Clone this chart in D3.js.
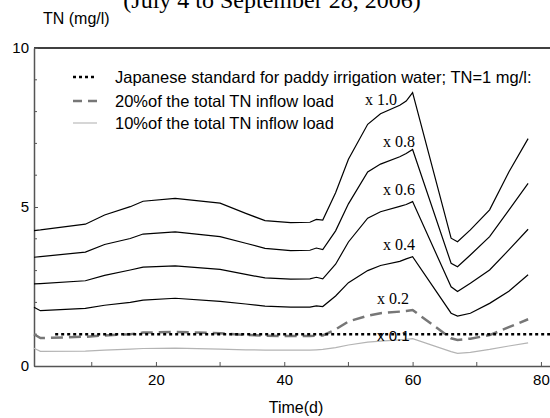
<!DOCTYPE html>
<html>
<head>
<meta charset="utf-8">
<script src="https://cdn.jsdelivr.net/npm/d3@7"></script>
<style>
  body { margin: 0; background: #fff; }
  svg { display: block; }
</style>
</head>
<body>
<div id="chart"></div>
<script>
var days = [1, 2, 9, 12, 16, 18, 23, 30, 34, 37, 41, 44, 45, 46, 48, 50, 53, 55, 58, 59, 60, 66, 67, 69, 72, 75, 78];

var tn10 = [4.26, 4.28, 4.46, 4.75, 5.01, 5.18, 5.27, 5.12, 4.80, 4.57, 4.51, 4.52, 4.61, 4.59, 5.45, 6.50, 7.60, 7.93, 8.20, 8.33, 8.60, 4.02, 3.91, 4.28, 4.91, 6.10, 7.15];
var tn08 = [3.42, 3.44, 3.58, 3.82, 4.01, 4.15, 4.22, 4.07, 3.86, 3.70, 3.63, 3.64, 3.71, 3.66, 4.25, 5.10, 6.10, 6.35, 6.58, 6.68, 6.81, 3.23, 3.12, 3.49, 4.07, 4.90, 5.74];
var tn06 = [2.58, 2.59, 2.68, 2.85, 3.02, 3.11, 3.15, 3.04, 2.88, 2.77, 2.73, 2.74, 2.79, 2.74, 3.20, 3.90, 4.65, 4.85, 5.02, 5.08, 5.17, 2.49, 2.34, 2.60, 3.02, 3.65, 4.30];
var tn04 = [1.85, 1.74, 1.81, 1.91, 2.00, 2.07, 2.13, 2.03, 1.95, 1.88, 1.85, 1.85, 1.89, 1.87, 2.20, 2.62, 3.00, 3.16, 3.29, 3.37, 3.44, 1.66, 1.57, 1.66, 1.97, 2.35, 2.87];
var tn02 = [1.00, 0.88, 0.92, 0.96, 1.00, 1.05, 1.07, 1.03, 0.98, 0.95, 0.94, 0.94, 0.95, 0.96, 1.15, 1.40, 1.58, 1.66, 1.71, 1.73, 1.76, 0.87, 0.82, 0.86, 0.97, 1.22, 1.47];
var tn01 = [0.56, 0.46, 0.47, 0.50, 0.53, 0.55, 0.56, 0.53, 0.51, 0.50, 0.50, 0.50, 0.51, 0.52, 0.58, 0.66, 0.75, 0.78, 0.82, 0.84, 0.86, 0.45, 0.40, 0.43, 0.52, 0.63, 0.73];

var standardDays = [4.3, 84];
var standardTN = [1, 1];

var curveLabels = ["x 1.0", "x 0.8", "x 0.6", "x 0.4", "x 0.2", "x 0.1"];
var legendLabels = [
	"Japanese standard for paddy irrigation water; TN=1 mg/l:",
	"20%of the total TN inflow load",
	"10%of the total TN inflow load"
];
var xTicks = [20, 40, 60, 80];
var xMinor = [10, 30, 50, 70];
var yTicks = [0, 5, 10];
var yMinor = [1, 2, 3, 4, 6, 7, 8, 9];

var W = 550, H = 418;
var sans = "'Liberation Sans', Arial, sans-serif";
var serif = "'Liberation Serif', 'Times New Roman', serif";

var svg = d3.select('#chart').append('svg').attr('width', W).attr('height', H);

var x = d3.scaleLinear().domain([1, 84]).range([34, 34 + 83 * 6.417]);
var y = d3.scaleLinear().domain([0, 10]).range([366, 48]);

function pts(xs, ys) { return xs.map(function(d, i) { return [d, ys[i]]; }); }
var line = d3.line().x(function(d) { return x(d[0]); }).y(function(d) { return y(d[1]); });

// title, cut off at the top as in the original figure
svg.append('text').attr('x', 272).attr('y', 8).attr('text-anchor', 'middle')
	.style('font-family', serif).style('font-size', '24px')
	.text('(July 4 to September 28, 2006)');

svg.append('text').attr('x', 43).attr('y', 24)
	.style('font-family', sans).style('font-size', '16px')
	.text('TN (mg/l)');

// frame
svg.append('line').attr('x1', x(1)).attr('x2', W).attr('y1', y(10)).attr('y2', y(10))
	.attr('stroke', '#000').attr('stroke-width', 1.3);

// axes
var yAxis = d3.axisLeft(y).tickValues(yTicks).tickSizeInner(-4).tickSizeOuter(0).tickPadding(5);
var gy = svg.append('g').attr('transform', 'translate(' + x(1) + ',0)').call(yAxis);
gy.selectAll('text').style('font-family', sans).style('font-size', '15px').attr('fill', '#000');
gy.selectAll('line').attr('stroke', '#555');
gy.select('.domain').attr('stroke', '#555').attr('stroke-width', 1.5);
gy.selectAll('.minor').data(yMinor).enter().append('line').attr('class', 'minor')
	.attr('x1', 0).attr('x2', 3).attr('y1', y).attr('y2', y).attr('stroke', '#555');

var xAxis = d3.axisBottom(x).tickValues(xTicks).tickSizeInner(-4).tickSizeOuter(0).tickPadding(8);
var gx = svg.append('g').attr('transform', 'translate(0,' + y(0) + ')').call(xAxis);
gx.selectAll('text').style('font-family', sans).style('font-size', '15px').attr('fill', '#000');
gx.selectAll('line').attr('stroke', '#555');
gx.select('.domain').attr('stroke', '#555').attr('stroke-width', 1.5);
gx.selectAll('.minor').data(xMinor).enter().append('line').attr('class', 'minor')
	.attr('x1', x).attr('x2', x).attr('y1', 0).attr('y2', -4).attr('stroke', '#555');

svg.append('text').attr('x', 296).attr('y', 413).attr('text-anchor', 'middle')
	.style('font-family', sans).style('font-size', '16px')
	.text('Time(d)');

// curves
var plot = svg.append('g');
[tn10, tn08, tn06, tn04].forEach(function(s) {
	plot.append('path').attr('d', line(pts(days, s)))
		.attr('fill', 'none').attr('stroke', '#000').attr('stroke-width', 1.2);
});
plot.append('path').attr('d', line(pts(days, tn01)))
	.attr('fill', 'none').attr('stroke', '#b4b4b4').attr('stroke-width', 1.2);
plot.append('path').attr('d', line(pts(days, tn02)))
	.attr('fill', 'none').attr('stroke', '#777').attr('stroke-width', 2.5)
	.attr('stroke-dasharray', '12,6');
plot.append('path').attr('d', line(pts(standardDays, standardTN)))
	.attr('fill', 'none').attr('stroke', '#000').attr('stroke-width', 2.5)
	.attr('stroke-dasharray', '3,3');

// curve labels
var labelPos = [[365, 105], [383, 147], [383, 195], [383, 250], [377, 304], [377, 341]];
svg.selectAll('.clab').data(curveLabels).enter().append('text').attr('class', 'clab')
	.attr('x', function(d, i) { return labelPos[i][0]; })
	.attr('y', function(d, i) { return labelPos[i][1]; })
	.style('font-family', function(d, i) { return i === 5 ? sans : serif; })
	.style('font-size', function(d, i) { return i === 5 ? '15px' : '16px'; })
	.text(function(d) { return d; });

// legend
var legY = [77, 101, 123];
var legStyle = [
	{ stroke: '#000', w: 2.5, dash: '3,3' },
	{ stroke: '#777', w: 2.5, dash: '9,6' },
	{ stroke: '#bbb', w: 1.2, dash: null }
];
var leg = svg.selectAll('.leg').data(legendLabels).enter().append('g').attr('class', 'leg')
	.attr('transform', function(d, i) { return 'translate(0,' + legY[i] + ')'; });
leg.append('line').attr('x1', 73).attr('x2', 97).attr('y1', 0).attr('y2', 0)
	.attr('stroke', function(d, i) { return legStyle[i].stroke; })
	.attr('stroke-width', function(d, i) { return legStyle[i].w; })
	.attr('stroke-dasharray', function(d, i) { return legStyle[i].dash; });
leg.append('text').attr('x', 115).attr('y', 6)
	.style('font-family', sans).style('font-size', '16.5px')
	.text(function(d) { return d; });
</script>
</body>
</html>
